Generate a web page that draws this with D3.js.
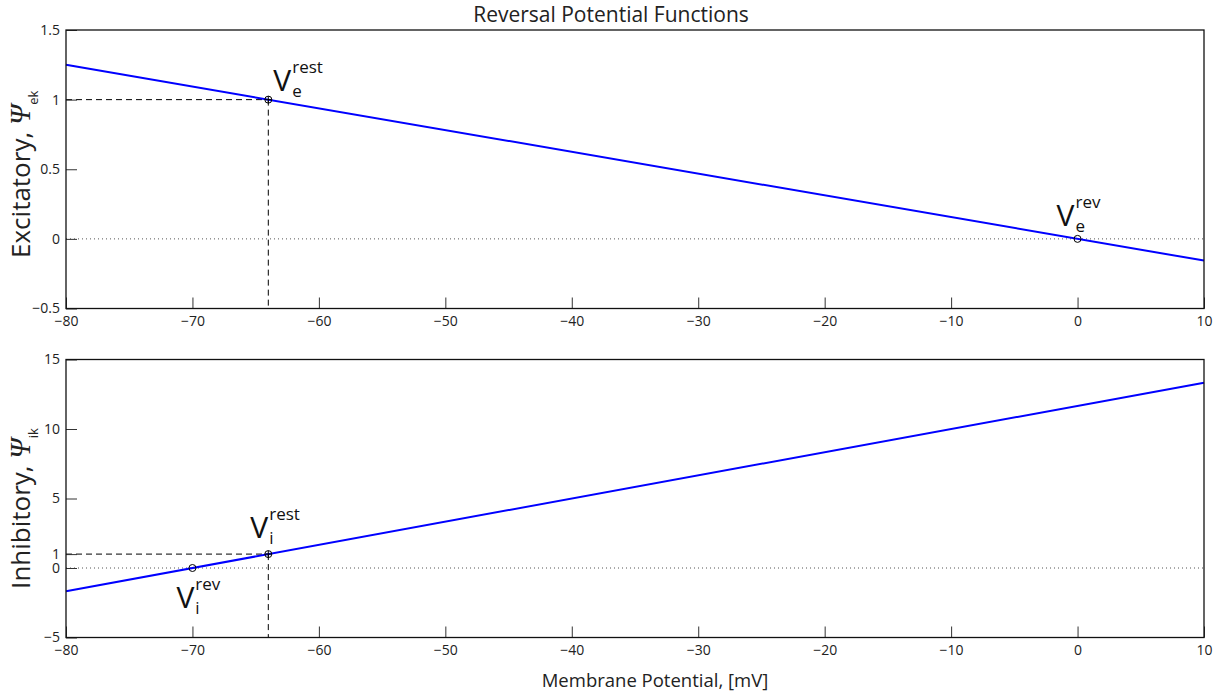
<!DOCTYPE html>
<html>
<head>
<meta charset="utf-8">
<script src="https://cdn.jsdelivr.net/npm/d3@7"></script>
<style>
    body { margin: 0; background: #fff; }
    svg { display: block; font-family: "Open Sans", sans-serif; }
</style>
</head>
<body>
<svg id="chart" width="1218" height="693"></svg>
<script>
// values
var voltage = [-80, 10];              // line end points, mV
var excitatory = [1.25, -0.156];      // psi_ek at those voltages
var inhibitory = [-1.667, 13.33];     // psi_ik at those voltages
var vRest = -64;
var vRevE = 0;
var vRevI = -70;

var xTicks = [-80, -70, -60, -50, -40, -30, -20, -10, 0, 10];
var yTicksTop = [-0.5, 0, 0.5, 1, 1.5];
var yTicksBottom = [-5, 0, 1, 5, 10, 15];

var svg = d3.select("#chart");
var left = 66, right = 1204;

var x = d3.scaleLinear().domain([-80, 10]).range([left, right]);

var fmt = function (d) { return String(d).replace("-", "\u2212"); };

/**
 * one subplot
 */
function panel(cfg) {
    var y = d3.scaleLinear().domain(cfg.yDomain).range([cfg.bottom, cfg.top]);
    var g = svg.append("g");

    // y = 0 dotted line
    g.append("line")
        .attr("x1", x(-80)).attr("x2", x(10))
        .attr("y1", y(0)).attr("y2", y(0))
        .attr("stroke", "#555")
        .attr("stroke-width", 1)
        .attr("stroke-dasharray", "1,3");

    // dashed guides to the rest point
    g.append("line")
        .attr("x1", x(-80)).attr("x2", x(vRest))
        .attr("y1", y(1)).attr("y2", y(1))
        .attr("stroke", "#000").attr("stroke-dasharray", "6,4");
    g.append("line")
        .attr("x1", x(vRest)).attr("x2", x(vRest))
        .attr("y1", y(1)).attr("y2", y(cfg.yDomain[0]))
        .attr("stroke", "#000").attr("stroke-dasharray", "6,4");

    // the function
    var line = d3.line()
        .x(function (d, i) { return x(voltage[i]); })
        .y(function (d) { return y(d); });
    g.append("path")
        .datum(cfg.values)
        .attr("d", line)
        .attr("fill", "none")
        .attr("stroke", "#0000ff")
        .attr("stroke-width", 2);

    // markers
    cfg.points.forEach(function (p) {
        var px = x(p.v), py = y(p.psi);
        g.append("circle")
            .attr("cx", px).attr("cy", py).attr("r", 3.5)
            .attr("fill", "none").attr("stroke", "#000").attr("stroke-width", 1);
        if (p.plus) {
            g.append("path")
                .attr("d", "M" + (px - 3.5) + "," + py + "H" + (px + 3.5) + "M" + px + "," + (py - 3.5) + "V" + (py + 3.5))
                .attr("stroke", "#000").attr("stroke-width", 1);
        }
        // V_sub^sup label
        var lx = px + p.dx, ly = py + p.dy;
        var v = g.append("text")
            .attr("x", lx).attr("y", ly)
            .attr("font-size", 30)
            .attr("fill", "#111")
            .text("V");
        var w = v.node().getComputedTextLength();
        g.append("text")
            .attr("x", lx + w + 1).attr("y", ly + 6)
            .attr("font-size", 17).attr("fill", "#111")
            .text(p.sub);
        g.append("text")
            .attr("x", lx + w + 1).attr("y", ly - 18)
            .attr("font-size", 17).attr("fill", "#111")
            .text(p.sup);
    });

    // axes
    var xAxis = d3.axisBottom(x)
        .tickValues(xTicks)
        .tickFormat(fmt)
        .tickSizeInner(-11)
        .tickSizeOuter(0)
        .tickPadding(8);
    var gx = g.append("g")
        .attr("transform", "translate(0," + cfg.bottom + ")")
        .call(xAxis);

    var yAxis = d3.axisLeft(y)
        .tickValues(cfg.yTicks)
        .tickFormat(fmt)
        .tickSizeInner(-11)
        .tickSizeOuter(0)
        .tickPadding(6);
    var gy = g.append("g")
        .attr("transform", "translate(" + left + ",0)")
        .call(yAxis);

    [gx, gy].forEach(function (a) {
        a.select(".domain").remove();
        a.selectAll(".tick line").attr("stroke", "#333");
        a.selectAll(".tick text")
            .attr("font-size", 14)
            .attr("fill", "#222")
            .attr("font-family", "Open Sans, sans-serif");
    });

    // box
    g.append("rect")
        .attr("x", left).attr("y", cfg.top)
        .attr("width", right - left).attr("height", cfg.bottom - cfg.top)
        .attr("fill", "none")
        .attr("stroke", "#111")
        .attr("stroke-width", 1.3);

    // y label
    var lab = g.append("text")
        .attr("transform", "translate(30," + ((cfg.top + cfg.bottom) / 2 + cfg.labelShift) + ") rotate(-90)")
        .attr("text-anchor", "middle")
        .attr("font-size", 26)
        .attr("fill", "#222");
    lab.append("tspan").text(cfg.label + ", ");
    lab.append("tspan")
        .attr("font-family", "Liberation Serif, serif")
        .attr("font-style", "italic")
        .attr("font-size", 29)
        .text("\u03A8");
    lab.append("tspan")
        .attr("font-size", 13)
        .attr("dy", 8)
        .text(cfg.labelSub);
}

panel({
    top: 30, bottom: 308.5,
    yDomain: [-0.5, 1.5],
    yTicks: yTicksTop,
    values: excitatory,
    label: "Excitatory", labelSub: "ek", labelShift: 5,
    points: [
        {v: vRest, psi: 1, plus: true, sub: "e", sup: "rest", dx: 5, dy: -9},
        {v: vRevE, psi: 0, plus: false, sub: "e", sup: "rev", dx: -21, dy: -13}
    ]
});

panel({
    top: 359.5, bottom: 637.5,
    yDomain: [-5, 15],
    yTicks: yTicksBottom,
    values: inhibitory,
    label: "Inhibitory", labelSub: "ik", labelShift: 10,
    points: [
        {v: vRest, psi: 1, plus: true, sub: "i", sup: "rest", dx: -18, dy: -16},
        {v: vRevI, psi: 0, plus: false, sub: "i", sup: "rev", dx: -16, dy: 40}
    ]
});

svg.append("text")
    .attr("x", 611).attr("y", 22)
    .attr("text-anchor", "middle")
    .attr("font-size", 21)
    .attr("fill", "#222")
    .text("Reversal Potential Functions");

svg.append("text")
    .attr("x", 655).attr("y", 687)
    .attr("text-anchor", "middle")
    .attr("font-size", 18.5)
    .attr("fill", "#222")
    .text("Membrane Potential, [mV]");
</script>
</body>
</html>
